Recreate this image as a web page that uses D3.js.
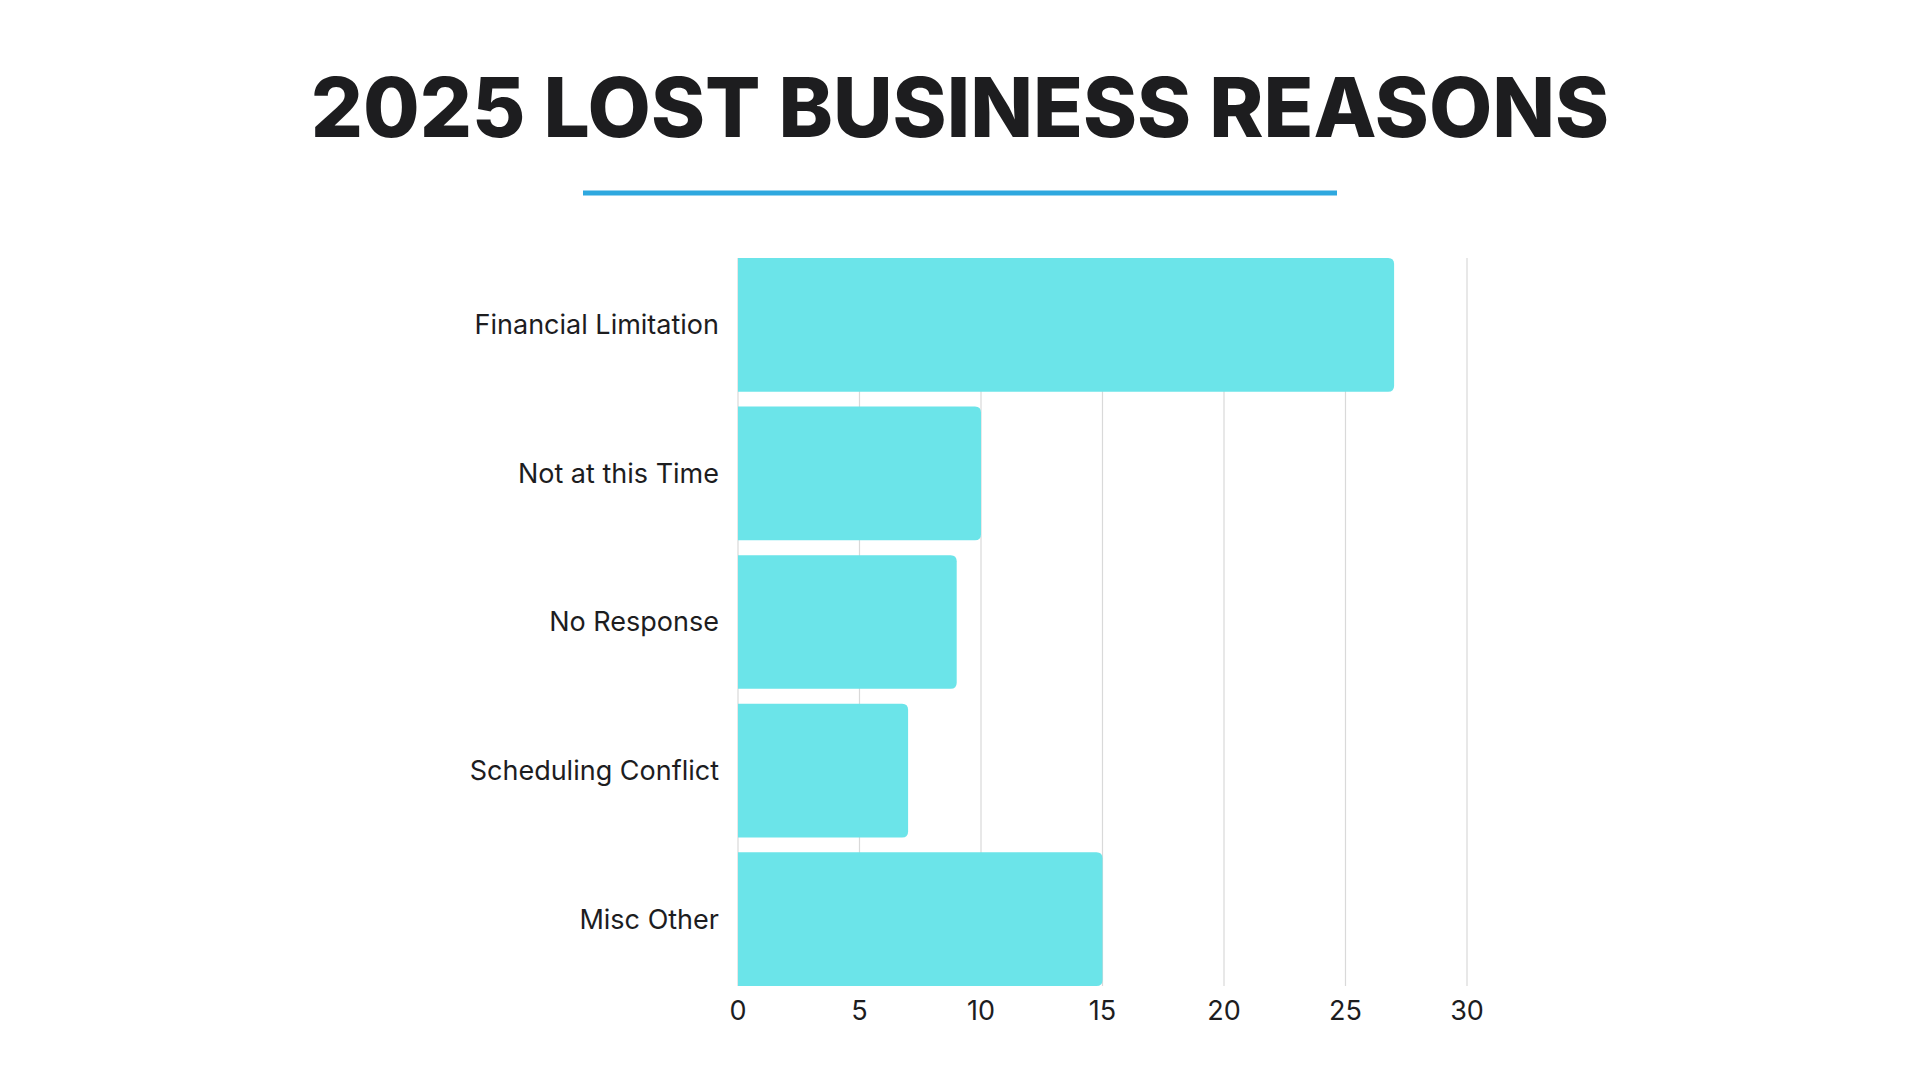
<!DOCTYPE html>
<html><head><meta charset="utf-8">
<script src="https://cdn.jsdelivr.net/npm/d3@7"></script>
<style>body{margin:0;background:#fff}svg{display:block}</style>
</head><body>
<svg id="chart" width="1920" height="1080"></svg>
<script>
var categories = ['Financial Limitation', 'Not at this Time', 'No Response', 'Scheduling Conflict', 'Misc Other'];
var values = [27, 10, 9, 7, 15];
var ticks = [0, 5, 10, 15, 20, 25, 30];

var svg = d3.select('#chart');
var plotLeft = 738, plotRight = 1467, plotTop = 258, plotBottom = 986;

// title
svg.append('text').attr('x', 960).attr('y', 137).attr('text-anchor', 'middle')
	.style('font-family', 'Inter, Roboto, sans-serif').style('font-weight', 800)
	.style('font-size', '82px').attr('fill', '#1d1d1f').text('2025 LOST BUSINESS REASONS');
svg.append('line').attr('x1', 583).attr('x2', 1337).attr('y1', 193).attr('y2', 193)
	.attr('stroke', '#2ea8df').attr('stroke-width', 5);

var x = d3.scaleLinear().domain([0, 30]).range([plotLeft, plotRight]);
var y = d3.scaleBand().domain(categories).range([plotTop, plotBottom]).paddingInner(0.1).paddingOuter(0);

// grid
svg.selectAll('.grid').data(ticks).enter().append('line')
	.attr('x1', function(d){return x(d);}).attr('x2', function(d){return x(d);})
	.attr('y1', plotTop).attr('y2', plotBottom).attr('stroke', '#d9d9d9').attr('stroke-width', 1.2);

// bars with rounded right corners
var r = 6;
svg.selectAll('.bar').data(values).enter().append('path')
	.attr('fill', '#6be4e9')
	.attr('d', function(d, i){
		var x0 = x(0), x1 = x(d), y0 = y(categories[i]), h = y.bandwidth();
		return 'M' + x0 + ',' + y0 + 'H' + (x1 - r) + 'Q' + x1 + ',' + y0 + ' ' + x1 + ',' + (y0 + r)
			+ 'V' + (y0 + h - r) + 'Q' + x1 + ',' + (y0 + h) + ' ' + (x1 - r) + ',' + (y0 + h) + 'H' + x0 + 'Z';
	});

// category labels
svg.selectAll('.lbl').data(categories).enter().append('text')
	.attr('x', 719).attr('y', function(d){return y(d) + y.bandwidth() / 2;})
	.attr('dy', '0.35em').attr('text-anchor', 'end')
	.style('font-family', 'Inter, Roboto, sans-serif').style('font-size', '27px').attr('fill', '#1d1d1f')
	.text(function(d){return d;});

// tick labels
svg.selectAll('.tick').data(ticks).enter().append('text')
	.attr('x', function(d){return x(d);}).attr('y', 1011).attr('dy', '0.35em').attr('text-anchor', 'middle')
	.style('font-family', 'Inter, Roboto, sans-serif').style('font-size', '27px').attr('fill', '#1d1d1f')
	.text(function(d){return d;});
</script>
</body></html>
